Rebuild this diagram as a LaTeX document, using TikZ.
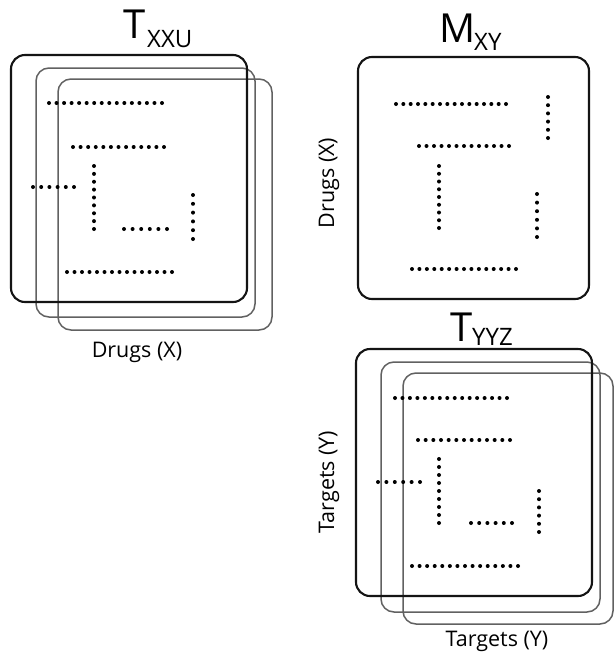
\documentclass[tikz,border=0pt]{standalone}
\usepackage{fontspec}
\setmainfont{Open Sans}
\begin{document}
\begin{tikzpicture}[x=1pt,y=-1pt,
  kbox/.style={draw=black!92, line width=2.1pt, rounded corners=14pt},
  gbox/.style={draw=black!62, line width=1.5pt, rounded corners=13pt},
  lbl/.style={inner sep=0pt, font=\fontsize{21.5}{21.5}\selectfont},
  bigT/.style={inner sep=0pt, anchor=base west, font=\fontsize{40}{40}\selectfont},
  subT/.style={inner sep=0pt, anchor=base west, font=\fontsize{24}{24}\selectfont}
]
\newcommand\dotsHz[4]{\foreach \i in {0,...,\numexpr#4-1\relax}{\fill ({#1+\i*(#2-#1)/(#4-1)},#3) circle (2pt);}}
\newcommand\dotsVt[4]{\foreach \i in {0,...,\numexpr#4-1\relax}{\fill (#3,{#1+\i*(#2-#1)/(#4-1)}) circle (2pt);}}
\useasboundingbox (0,0) rectangle (614,654);
\fill[white] (0,0) rectangle (614,654);

% ---------- left: T_XXU ----------
\draw[gbox] (58,79) rectangle (272,330);
\draw[gbox] (36,68) rectangle (255,317);
\draw[kbox] (11,55) rectangle (247,302);
\node[bigT] (tl) at (123,38) {T};
\node[subT] (tls) at (147,47) {XXU};
\dotsHz{49}{162}{103}{16}
\dotsHz{73}{164}{147}{13}
\dotsHz{33}{74}{187}{6}
\dotsVt{166}{229}{94}{9}
\dotsHz{124}{167}{229}{6}
\dotsVt{195}{239}{193}{6}
\dotsHz{67}{172}{272}{15}
\node[lbl, anchor=base] (dxl) at (137,357) {Drugs (X)};

% ---------- right top: M_XY ----------
\draw[kbox] (358,57) rectangle (589,299);
\node[bigT] (m) at (439,42) {M};
\node[subT] (ms) at (474,50) {XY};
\dotsHz{396}{506}{104}{16}
\dotsVt{97}{138}{548}{6}
\dotsHz{419}{509}{146}{13}
\dotsVt{166}{228}{439}{9}
\dotsVt{194}{237}{537}{6}
\dotsHz{412}{516}{269}{15}
\node[lbl, rotate=90, anchor=base] (dxr) at (334,183) {Drugs (X)};

% ---------- right bottom: T_YYZ ----------
\draw[gbox] (403,373) rectangle (613,624);
\draw[gbox] (381,362) rectangle (600,612);
\draw[kbox] (356,349) rectangle (592,596);
\node[bigT] (tb) at (450,341) {T};
\node[subT] (tbs) at (472,345) {YYZ};
\dotsHz{395}{507}{398}{16}
\dotsHz{418}{510}{440}{13}
\dotsHz{378}{420}{482}{6}
\dotsVt{459}{523}{439}{9}
\dotsHz{471}{512}{523}{6}
\dotsVt{491}{532}{539}{6}
\dotsHz{412}{518}{566}{15}
\node[lbl, rotate=90, anchor=base] (tyl) at (334,482) {Targets (Y)};
\node[lbl, anchor=base] (tyb) at (497,646) {Targets (Y)};
\end{tikzpicture}
\end{document}
